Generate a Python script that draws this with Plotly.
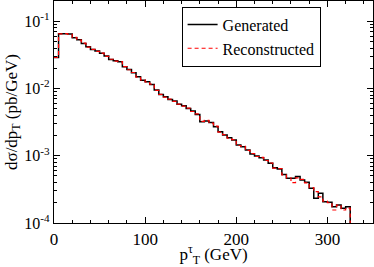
import numpy as np
import plotly.graph_objects as go

# bin edges (GeV), 5 GeV bins from 0 to 325
bin_edges = list(range(0, 330, 5))

generated = [0.0288, 0.0650, 0.0653, 0.0646, 0.0566, 0.0530, 0.0468, 0.0417, 0.0380, 0.0360,
             0.0333, 0.0303, 0.0270, 0.0258, 0.0249, 0.0210, 0.0192, 0.0171, 0.0149, 0.0133,
             0.0126, 0.0115, 0.00946, 0.00813, 0.00753, 0.00689, 0.00650, 0.00581, 0.00553, 0.00506,
             0.00461, 0.00412, 0.00320, 0.00328, 0.00313, 0.00270, 0.00228, 0.00203, 0.00185, 0.00171,
             0.00145, 0.00136, 0.00122, 0.00106, 0.000991, 0.000933, 0.000863, 0.000771, 0.000664, 0.000634,
             0.000528, 0.000461, 0.000461, 0.000490, 0.000437, 0.000403, 0.000328, 0.000233, 0.000276, 0.000207,
             0.000204, 0.000175, 0.000185, 0.000166, 0.000175]

reconstructed = [0.0290, 0.0648, 0.0655, 0.0640, 0.0575, 0.0525, 0.0472, 0.0412, 0.0383, 0.0356,
                 0.0335, 0.0300, 0.0272, 0.0255, 0.0252, 0.0212, 0.0190, 0.0173, 0.0147, 0.0134,
                 0.0125, 0.0116, 0.00935, 0.00820, 0.00745, 0.00695, 0.00645, 0.00585, 0.00548, 0.00510,
                 0.00455, 0.00418, 0.00325, 0.00335, 0.00305, 0.00275, 0.00225, 0.00206, 0.00182, 0.00174,
                 0.00142, 0.00138, 0.00120, 0.00108, 0.000975, 0.000945, 0.000850, 0.000780, 0.000655, 0.000645,
                 0.000520, 0.000470, 0.000398, 0.000470, 0.000445, 0.000395, 0.000335, 0.000292, 0.000245, 0.000212,
                 0.000200, 0.000156, 0.000185, 0.000156, 0.000166]

y_tick_vals = [1e-4, 1e-3, 1e-2, 1e-1]
y_tick_text = ["10<sup>-4</sup>", "10<sup>-3</sup>", "10<sup>-2</sup>", "10<sup>-1</sup>"]
x_tick_vals = [0, 100, 200, 300]

Y_MIN = 1e-4
Y_MAX = 0.2

def step_xy(edges, vals):
    # histogram outline: 'hv' steps, closed down to the axis floor at the last edge
    xs = list(edges)
    ys = list(vals) + [Y_MIN * 0.5]
    return xs, ys

font_family = '"Liberation Serif", "Times New Roman", serif'

fig = go.Figure()
gx, gy = step_xy(bin_edges, generated)
rx, ry = step_xy(bin_edges, reconstructed)
fig.add_trace(go.Scatter(x=gx, y=gy, mode="lines", line_shape="hv",
                         line=dict(color="black", width=1.5), name="Generated"))
fig.add_trace(go.Scatter(x=rx, y=ry, mode="lines", line_shape="hv",
                         line=dict(color="red", width=1.2, dash="4px,3px"), name="Reconstructed"))

minor_y = []
for d in [1e-4, 1e-3, 1e-2, 1e-1]:
    for m in range(2, 10):
        v = d * m
        if v < Y_MAX:
            minor_y.append(v)

fig.update_layout(
    width=374, height=267, autosize=False,
    margin=dict(l=54, r=1, t=1, b=44),
    paper_bgcolor="white", plot_bgcolor="white",
    font=dict(family=font_family, color="black", size=16),
    showlegend=True,
    legend=dict(x=0.40, y=0.975, xanchor="left", yanchor="top",
                bgcolor="white", bordercolor="black", borderwidth=1,
                font=dict(size=16, family=font_family),
                itemwidth=30, tracegroupgap=0,
                traceorder="normal"),
    xaxis=dict(range=[0, 350], tickvals=x_tick_vals, ticks="inside", ticklen=6,
               tickwidth=1, tickcolor="black", showline=True, linecolor="black", linewidth=1.3,
               mirror="allticks", showgrid=False, zeroline=False, automargin=False,
               tickfont=dict(size=17, family=font_family),
               minor=dict(tickmode="linear", tick0=0, dtick=20, ticks="inside", ticklen=3,
                          tickcolor="black", tickwidth=1, showgrid=False),
               title=dict(text="p<sup>τ</sup><sub>T</sub> (GeV)", font=dict(size=17, family=font_family),
                          standoff=2)),
    yaxis=dict(type="log", range=[np.log10(Y_MIN), np.log10(Y_MAX)],
               tickvals=y_tick_vals, ticktext=y_tick_text, ticks="inside", ticklen=6,
               tickwidth=1, tickcolor="black", showline=True, linecolor="black", linewidth=1.3,
               mirror="allticks", showgrid=False, zeroline=False, automargin=False,
               tickfont=dict(size=16, family=font_family),
               minor=dict(tickmode="array", tickvals=minor_y, ticks="inside", ticklen=3,
                          tickcolor="black", tickwidth=1, showgrid=False),
               title=dict(text="dσ/dp<sub>T</sub> (pb/GeV)", font=dict(size=17, family=font_family),
                          standoff=2)),
)

fig.write_html("out.html", config={"displayModeBar": False},
               post_script="document.body.style.margin='0';document.body.style.overflow='hidden';")
